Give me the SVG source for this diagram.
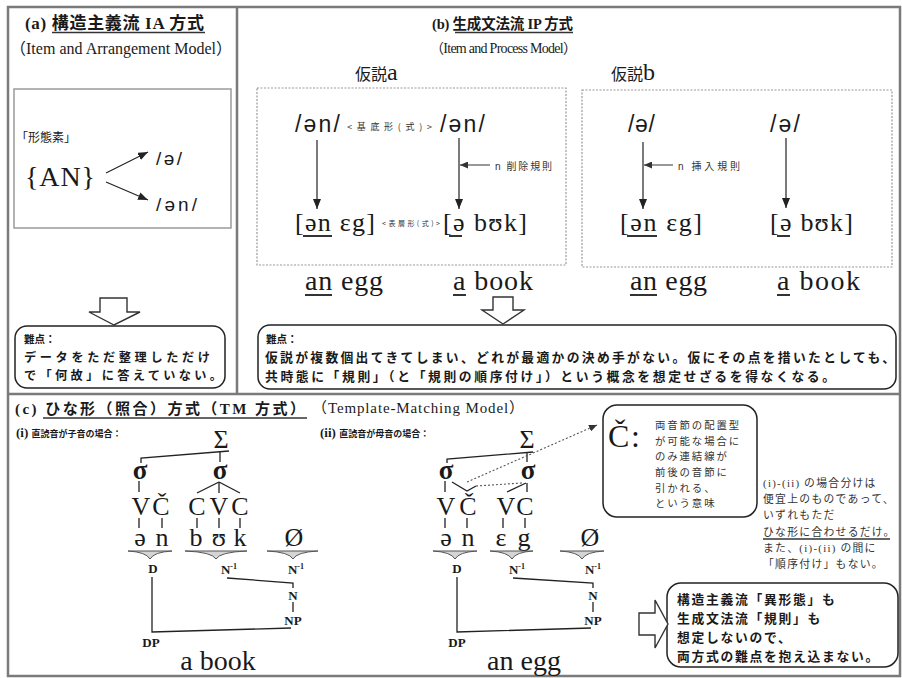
<svg xmlns="http://www.w3.org/2000/svg" width="902" height="678" viewBox="0 0 902 678">
<defs>
<marker id="ah" viewBox="0 0 10 8" refX="10" refY="4" markerWidth="10" markerHeight="8" orient="auto" markerUnits="userSpaceOnUse"><path d="M0,0 L10,4 L0,8 Z" fill="#222"/></marker>
<marker id="ahs" viewBox="0 0 8 7" refX="8" refY="3.5" markerWidth="8" markerHeight="7" orient="auto" markerUnits="userSpaceOnUse"><path d="M0,0 L8,3.5 L0,7 Z" fill="#333"/></marker>
</defs>
<style>
.frame{fill:none;stroke:#7a7a7a;stroke-width:2.5}
.box{fill:none;stroke:#9a9a9a;stroke-width:1.5}
.dash{fill:none;stroke:#999;stroke-width:1.2;stroke-dasharray:2 1.5}
.rbox{fill:#fff;stroke:#222;stroke-width:1.5}
.blk{fill:#fff;stroke:#333;stroke-width:1.4}
.ser{font-family:"Liberation Serif","DejaVu Serif","Noto Sans CJK JP",serif}
.san{font-family:"Liberation Sans","DejaVu Sans","Noto Sans CJK JP",sans-serif}
.jp{font-family:"Noto Sans CJK JP","Noto Sans CJK SC",sans-serif}
text{fill:#1a1a1a}
.g{fill:#333}
.b{font-weight:bold}
.ln{stroke:#222;stroke-width:1.3;fill:none}
.ul{stroke:#333;stroke-width:1.3}
.ul2{stroke:#333;stroke-width:2}
.arr{stroke:#222;stroke-width:1.2;fill:none;marker-end:url(#ah)}
.arrs{stroke:#333;stroke-width:1;fill:none;marker-end:url(#ahs)}
.dot{stroke:#555;stroke-width:1.1;fill:none;stroke-dasharray:2 2}
.wedge{fill:#d4d4d4;stroke:#555;stroke-width:1}
</style>

<g id="frames">
<rect x="8" y="7" width="892" height="669" class="frame"/>
<line x1="237" y1="7" x2="237" y2="394" class="frame"/>
<line x1="8" y1="394" x2="900" y2="394" class="frame"/>
</g>

<g id="title-a">
<text x="25" y="29" font-size="17" class="jp b" textLength="179"><tspan class="ser">(a) </tspan>構造主義流<tspan class="ser"> IA </tspan>方式</text>
<line x1="52" y1="32.5" x2="205" y2="32.5" class="ul"/>
<text x="10" y="54" font-size="16" class="ser" textLength="222">（Item and Arrangement Model）</text>
</g>

<g id="node-morpheme">
<rect x="14" y="89" width="217" height="139" class="box"/>
<text x="16" y="142" font-size="12" class="jp">「形態素」</text>
<text x="25" y="186" font-size="28" class="ser" textLength="70">{AN}</text>
<text x="156" y="165" font-size="19" class="san" textLength="26">/ə/</text>
<text x="156" y="211" font-size="19" class="san" textLength="41">/ən/</text>
</g>

<g id="node-difficulty-a">
<rect x="15" y="326" width="210" height="62" rx="12" class="rbox"/>
<text x="24" y="343" font-size="10.5" class="jp b">難点：</text>
<text x="24" y="362" font-size="12.2" class="jp b" textLength="186">データをただ整理しただけ</text>
<text x="24" y="380" font-size="12.2" class="jp b" textLength="198">で「何故」に答えていない。</text>
</g>

<g id="title-b">
<text x="432" y="29" font-size="14.5" class="jp b" textLength="141"><tspan class="ser">(b) </tspan>生成文法流<tspan class="ser"> IP </tspan>方式</text>
<line x1="455" y1="32.5" x2="573" y2="32.5" class="ul"/>
<text x="430" y="53" font-size="14" class="ser" textLength="147">（Item and Process Model）</text>
</g>

<g id="node-hyp-a">
<text x="355" y="80" class="jp" font-size="16">仮説<tspan class="ser" font-size="24">a</tspan></text>
<rect x="257" y="88" width="309" height="177" class="dash"/>
<text x="295" y="132" font-size="23" class="san" textLength="45">/ən/</text>
<text x="347" y="130" font-size="9" class="jp g" textLength="85">&lt;基底形(式)&gt;</text>
<text x="440" y="132" font-size="23" class="san" textLength="45">/ən/</text>
<text x="495" y="170" font-size="10" class="jp g" textLength="57"><tspan class="san">n</tspan> 削除規則</text>
<text x="295" y="231" font-size="26" class="ser" textLength="80">[ən εg]</text>
<line x1="303" y1="236" x2="332" y2="236" class="ul2"/>
<text x="382" y="226" font-size="7" class="jp g" textLength="58">&lt;表層形(式)&gt;</text>
<text x="443" y="231" font-size="26" class="ser" textLength="84">[ə bʊk]</text>
<line x1="449" y1="236" x2="462" y2="236" class="ul2"/>
<text x="305" y="290" font-size="28" class="ser" textLength="78">an egg</text>
<line x1="305" y1="295" x2="332" y2="295" class="ul2"/>
<text x="453" y="290" font-size="28" class="ser" textLength="80">a book</text>
<line x1="453" y1="295" x2="466" y2="295" class="ul2"/>
</g>

<g id="node-hyp-b">
<text x="611" y="80" class="jp" font-size="16">仮説<tspan class="ser" font-size="24">b</tspan></text>
<rect x="582" y="90" width="310" height="177" class="dash"/>
<text x="628" y="132" font-size="23" class="san" textLength="27">/ə/</text>
<text x="770" y="132" font-size="23" class="san" textLength="30">/ə/</text>
<text x="678" y="170" font-size="10" class="jp g" textLength="62"><tspan class="san">n</tspan> 挿入規則</text>
<text x="620" y="231" font-size="26" class="ser" textLength="82">[ən εg]</text>
<line x1="627" y1="236" x2="657" y2="236" class="ul2"/>
<text x="770" y="231" font-size="26" class="ser" textLength="83">[ə bʊk]</text>
<line x1="777" y1="236" x2="790" y2="236" class="ul2"/>
<text x="630" y="290" font-size="28" class="ser" textLength="77">an egg</text>
<line x1="630" y1="295" x2="657" y2="295" class="ul2"/>
<text x="777" y="290" font-size="28" class="ser" textLength="83">a book</text>
<line x1="777" y1="295" x2="790" y2="295" class="ul2"/>
</g>

<g id="node-difficulty-b">
<rect x="258" y="325" width="638" height="64" rx="12" class="rbox"/>
<text x="266" y="343" font-size="10.5" class="jp b">難点：</text>
<text x="265" y="362" font-size="12.8" class="jp b" textLength="630">仮説が複数個出てきてしまい、どれが最適かの決め手がない。仮にその点を措いたとしても、</text>
<text x="265" y="381" font-size="12.8" class="jp b" textLength="570">共時態に「規則」（と「規則の順序付け」）という概念を想定せざるを得なくなる。</text>
</g>

<g id="title-c">
<text x="15" y="414" font-size="15" class="jp b" textLength="290"><tspan class="ser">(c) </tspan>ひな形（照合）方式（<tspan class="ser">TM </tspan>方式）</text>
<line x1="43" y1="418" x2="307" y2="418" class="ul"/>
<text x="312" y="413" font-size="15" class="ser" textLength="212">（Template-Matching Model）</text>
<text x="16" y="437" font-size="13" class="ser b">(i) <tspan class="jp" font-size="9">直読音が子音の場合：</tspan></text>
<text x="320" y="437" font-size="13" class="ser b">(ii) <tspan class="jp" font-size="9">直読音が母音の場合：</tspan></text>
</g>

<g id="node-tree-i">
<text x="221" y="448" font-size="26" class="ser" text-anchor="middle">Σ</text>
<text x="140" y="479" font-size="27" class="ser b" text-anchor="middle">σ</text>
<text x="220" y="479" font-size="27" class="ser b" text-anchor="middle">σ</text>
<text y="515" font-size="26" class="ser" text-anchor="middle"><tspan x="141">V</tspan><tspan x="161">Č</tspan><tspan x="197">C</tspan><tspan x="219">V</tspan><tspan x="240">C</tspan></text>
<text y="546" font-size="26" class="ser" text-anchor="middle"><tspan x="140">ə</tspan><tspan x="162">n</tspan><tspan x="196">b</tspan><tspan x="219">ʊ</tspan><tspan x="240">k</tspan><tspan x="294">Ø</tspan></text>
<path class="wedge" d="M128,551 L172,551 Q154,552 150,559 Q146,552 128,551 Z"/>
<path class="wedge" d="M185,551 L247,551 Q220,552 216,559 Q212,552 185,551 Z"/>
<path class="wedge" d="M267,551 L318,551 Q297,552 293,559 Q289,552 267,551 Z"/>
<text x="153" y="573" font-size="13" class="ser b" text-anchor="middle">D</text>
<text x="229" y="574" font-size="13" class="ser b" text-anchor="middle">N<tspan font-size="8" dy="-5">-1</tspan></text>
<text x="296" y="574" font-size="13" class="ser b" text-anchor="middle">N<tspan font-size="8" dy="-5">-1</tspan></text>
<text x="293" y="600" font-size="13" class="ser b" text-anchor="middle">N</text>
<text x="293" y="625" font-size="13" class="ser b" text-anchor="middle">NP</text>
<text x="151" y="647" font-size="13" class="ser b" text-anchor="middle">DP</text>
<text x="218" y="670" font-size="28" class="ser" text-anchor="middle">a book</text>
</g>

<g id="node-tree-ii">
<text x="527" y="448" font-size="26" class="ser" text-anchor="middle">Σ</text>
<text x="446" y="479" font-size="27" class="ser b" text-anchor="middle">σ</text>
<text x="528" y="479" font-size="27" class="ser b" text-anchor="middle">σ</text>
<text y="515" font-size="26" class="ser" text-anchor="middle"><tspan x="446">V</tspan><tspan x="468">Č</tspan><tspan x="506">V</tspan><tspan x="525">C</tspan></text>
<text y="546" font-size="26" class="ser" text-anchor="middle"><tspan x="446">ə</tspan><tspan x="468">n</tspan><tspan x="501">ε</tspan><tspan x="524">g</tspan><tspan x="590">Ø</tspan></text>
<path class="wedge" d="M433,551 L477,551 Q459,552 455,559 Q451,552 433,551 Z"/>
<path class="wedge" d="M490,551 L533,551 Q516,552 512,559 Q508,552 490,551 Z"/>
<path class="wedge" d="M560,551 L604,551 Q586,552 582,559 Q578,552 560,551 Z"/>
<text x="457" y="573" font-size="13" class="ser b" text-anchor="middle">D</text>
<text x="517" y="574" font-size="13" class="ser b" text-anchor="middle">N<tspan font-size="8" dy="-5">-1</tspan></text>
<text x="593" y="574" font-size="13" class="ser b" text-anchor="middle">N<tspan font-size="8" dy="-5">-1</tspan></text>
<text x="593" y="600" font-size="13" class="ser b" text-anchor="middle">N</text>
<text x="593" y="625" font-size="13" class="ser b" text-anchor="middle">NP</text>
<text x="457" y="647" font-size="13" class="ser b" text-anchor="middle">DP</text>
<text x="524" y="670" font-size="28" class="ser" text-anchor="middle">an egg</text>
</g>

<g id="node-callout">
<rect x="603" y="405" width="154" height="112" rx="14" class="rbox"/>
<text x="608" y="447" font-size="32" class="ser" textLength="32">Č:</text>
<text font-size="10.4" class="jp g" letter-spacing="1.9"><tspan x="655" y="429">両音節の配置型</tspan><tspan x="655" y="445">が可能な場合に</tspan><tspan x="655" y="460">のみ連結線が</tspan><tspan x="655" y="476">前後の音節に</tspan><tspan x="655" y="492">引かれる、</tspan><tspan x="655" y="507">という意味</tspan></text>
</g>

<g id="node-note">
<text font-size="10.8" class="jp g" letter-spacing="1.3"><tspan x="763" y="487"><tspan class="ser">(i)-(ii)</tspan> の場合分けは</tspan><tspan x="763" y="503">便宜上のものであって、</tspan><tspan x="763" y="519">いずれもただ</tspan><tspan x="763" y="535.5">ひな形に合わせるだけ。</tspan><tspan x="763" y="552">また、<tspan class="ser">(i)-(ii)</tspan> の間に</tspan><tspan x="763" y="568">「順序付け」もない。</tspan></text>
<line x1="763" y1="539" x2="890" y2="539" class="ul"/>
</g>

<g id="node-conclusion">
<rect x="667" y="583" width="231" height="84" rx="14" class="rbox"/>
<text font-size="12.8" class="jp b" letter-spacing="1.7"><tspan x="677" y="604">構造主義流「異形態」も</tspan><tspan x="677" y="623">生成文法流「規則」も</tspan><tspan x="677" y="642">想定しないので、</tspan><tspan x="677" y="661">両方式の難点を抱え込まない。</tspan></text>
</g>

<g id="connectors">
<line x1="106" y1="173" x2="148" y2="152" class="arr"/>
<line x1="106" y1="182" x2="148" y2="200" class="arr"/>
<polygon points="100,298 127,298 127,312 140,312 114,325 89,312 100,312" class="blk"/>
<line x1="317" y1="140" x2="317" y2="209" class="arr"/>
<line x1="459" y1="138" x2="459" y2="209" class="arr"/>
<line x1="490" y1="165" x2="460" y2="165" class="arrs"/>
<line x1="643" y1="142" x2="643" y2="209" class="arr"/>
<line x1="673" y1="165" x2="644" y2="165" class="arrs"/>
<line x1="786" y1="138" x2="786" y2="208" class="arr"/>
<polygon points="493,297 513,297 513,310 524,310 503,324 482,310 493,310" class="blk"/>
<polygon points="639,613 655,613 655,600 668,624 655,648 655,635 639,635" class="blk"/>
<polyline points="141,463 141,458 229,451" class="ln"/>
<line x1="220" y1="452" x2="220" y2="462" class="ln"/>
<line x1="139" y1="481" x2="139" y2="492" class="ln"/>
<line x1="219" y1="482" x2="197" y2="493" class="ln"/>
<line x1="219" y1="482" x2="219" y2="493" class="ln"/>
<line x1="219" y1="482" x2="240" y2="493" class="ln"/>
<path d="M139,518 V528 M162,518 V528 M197,518 V528 M219,518 V528 M240,518 V528" class="ln"/>
<polyline points="227,578 293,583 293,588" class="ln"/>
<line x1="293" y1="602" x2="293" y2="612" class="ln"/>
<polyline points="152,577 152,632 291,628" class="ln"/>
<polyline points="447,463 447,459 533,452" class="ln"/>
<line x1="527" y1="452" x2="527" y2="462" class="ln"/>
<line x1="445" y1="481" x2="445" y2="492" class="ln"/>
<polyline points="452,482 467,491 476,486" class="ln"/>
<line x1="476" y1="486" x2="522" y2="483" class="dot"/>
<line x1="526" y1="483" x2="507" y2="492" class="ln"/>
<line x1="527" y1="483" x2="527" y2="492" class="ln"/>
<path d="M445,518 V528 M467,518 V528 M503,518 V528 M525,518 V528" class="ln"/>
<polyline points="513,578 593,583 593,588" class="ln"/>
<line x1="593" y1="602" x2="593" y2="612" class="ln"/>
<polyline points="457,577 457,632 591,628" class="ln"/>
<line x1="467" y1="482" x2="597" y2="425" class="dot" marker-end="url(#ahs)"/>
</g>
</svg>
